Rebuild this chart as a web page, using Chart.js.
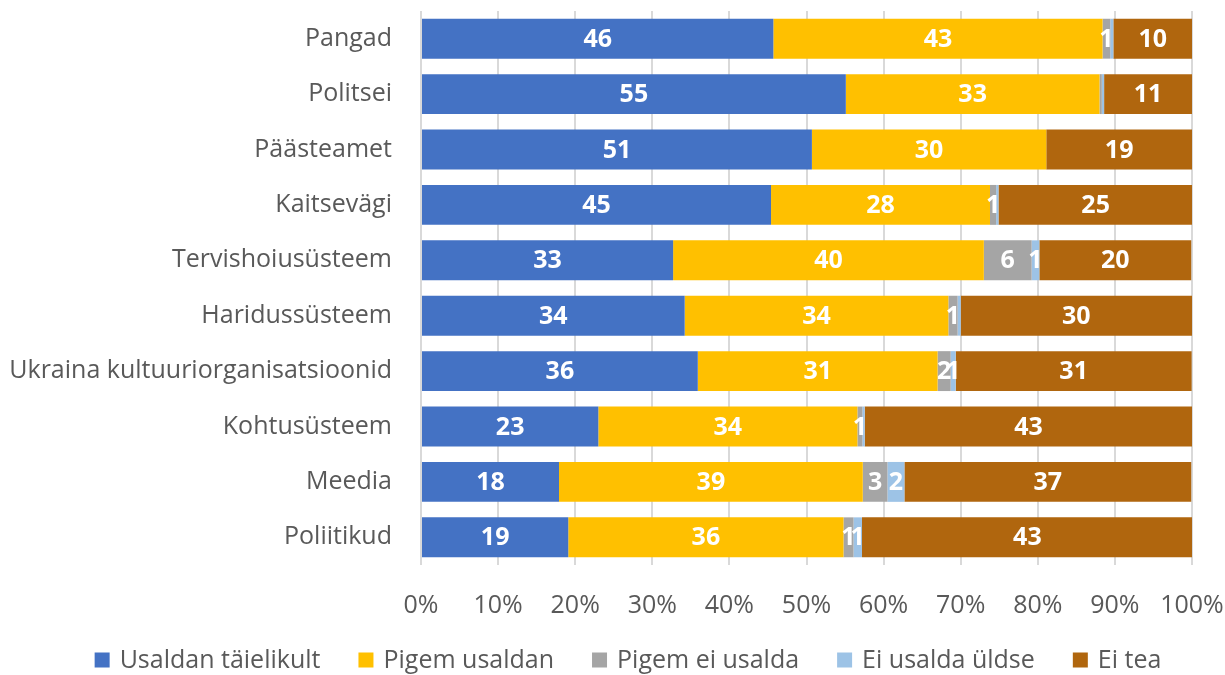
<!DOCTYPE html>
<html>
<head>
<meta charset="utf-8">
<script src="https://cdn.jsdelivr.net/npm/chart.js@4"></script>
<style>
  html, body { margin: 0; padding: 0; background: #fff; }
  #wrap { width: 1225px; height: 675px; }
</style>
</head>
<body>
<div id="wrap"><canvas id="chart"></canvas></div>
<script>
// Categories (top to bottom)
const categories = ['Pangad', 'Politsei', 'Päästeamet', 'Kaitsevägi', 'Tervishoiusüsteem',
  'Haridussüsteem', 'Ukraina kultuuriorganisatsioonid', 'Kohtusüsteem', 'Meedia', 'Poliitikud'];

const seriesNames = ['Usaldan täielikult', 'Pigem usaldan', 'Pigem ei usalda', 'Ei usalda üldse', 'Ei tea'];
const seriesColors = ['#4472c4', '#ffc000', '#a5a5a5', '#9dc3e6', '#b0660e'];

// Values (percent)
const usaldanTaielikult = [45.7, 55.1, 50.7, 45.4, 32.7, 34.2, 35.9, 23.0, 17.9, 19.1];
const pigemUsaldan      = [42.7, 32.9, 30.4, 28.4, 40.3, 34.2, 31.1, 33.6, 39.4, 35.7];
const pigemEiUsalda     = [1.0, 0.3, 0, 0.8, 6.2, 1.2, 1.7, 0.65, 3.2, 1.3];
const eiUsaldaUldse     = [0.4, 0.3, 0, 0.3, 1.0, 0.4, 0.65, 0.3, 2.2, 1.1];
const eiTea             = [10.2, 11.4, 18.9, 25.2, 19.7, 30.0, 30.6, 42.5, 37.2, 42.9];

const xTicks = [0, 10, 20, 30, 40, 50, 60, 70, 80, 90, 100];

const allSeries = [usaldanTaielikult, pigemUsaldan, pigemEiUsalda, eiUsaldaUldse, eiTea];

const FONT = "'Open Sans', 'Noto Sans', sans-serif";
const TEXT_COLOR = '#595959';

// rounded value labels in the middle of each segment
const barLabels = {
  id: 'barLabels',
  afterDatasetsDraw(chart) {
    const ctx = chart.ctx;
    ctx.save();
    ctx.fillStyle = '#fff';
    ctx.font = 'bold 25px ' + FONT;
    ctx.textAlign = 'center';
    ctx.textBaseline = 'middle';
    chart.data.datasets.forEach((ds, i) => {
      const meta = chart.getDatasetMeta(i);
      meta.data.forEach((bar, j) => {
        const v = Math.round(ds.data[j]);
        if (v < 1) return;
        ctx.fillText(String(v), (bar.x + bar.base) / 2, bar.y + 1);
      });
    });
    ctx.restore();
  }
};

// legend along the bottom, drawn by hand so its spacing can match
const bottomLegend = {
  id: 'bottomLegend',
  afterDraw(chart) {
    const ctx = chart.ctx;
    const box = 15, gap = 10, itemGap = 38, y = 660;
    ctx.save();
    ctx.font = '25px ' + FONT;
    ctx.textBaseline = 'middle';
    ctx.textAlign = 'left';
    const items = chart.data.datasets.map(ds => ({
      text: ds.label, color: ds.backgroundColor, w: ctx.measureText(ds.label).width
    }));
    let total = items.reduce((s, it) => s + box + gap + it.w, 0) + itemGap * (items.length - 1);
    let x = 628 - total / 2;
    items.forEach(it => {
      ctx.fillStyle = it.color;
      ctx.fillRect(x, y - box / 2, box, box);
      ctx.fillStyle = TEXT_COLOR;
      ctx.fillText(it.text, x + box + gap, y + 1);
      x += box + gap + it.w + itemGap;
    });
    ctx.restore();
  }
};

new Chart(document.getElementById('chart'), {
  type: 'bar',
  data: {
    labels: categories,
    datasets: allSeries.map((d, i) => ({
      label: seriesNames[i],
      data: d,
      backgroundColor: seriesColors[i],
      borderWidth: 0,
      categoryPercentage: 0.8,
      barPercentage: 0.9
    }))
  },
  options: {
    indexAxis: 'y',
    responsive: true,
    maintainAspectRatio: false,
    animation: false,
    layout: { padding: { left: 0, right: 33, top: 11, bottom: 29 } },
    scales: {
      x: {
        stacked: true,
        min: 0,
        max: 100,
        afterBuildTicks: s => { s.ticks = xTicks.map(v => ({ value: v })); },
        afterFit: s => { s.paddingLeft = 0; s.paddingRight = 0; },
        ticks: {
          callback: v => v + '%',
          color: TEXT_COLOR,
          font: { family: FONT, size: 25 },
          padding: 25.5,
          maxRotation: 0
        },
        grid: { color: '#d9d9d9', lineWidth: 2, drawTicks: false },
        border: { display: false }
      },
      y: {
        stacked: true,
        afterFit: s => { s.width = 421; s.paddingTop = 0; s.paddingBottom = 0; },
        ticks: {
          color: TEXT_COLOR,
          font: { family: FONT, size: 25 },
          padding: 21
        },
        grid: { display: false },
        border: { display: false }
      }
    },
    plugins: {
      legend: { display: false },
      tooltip: { enabled: false }
    }
  },
  plugins: [barLabels, bottomLegend]
});
</script>
</body>
</html>
